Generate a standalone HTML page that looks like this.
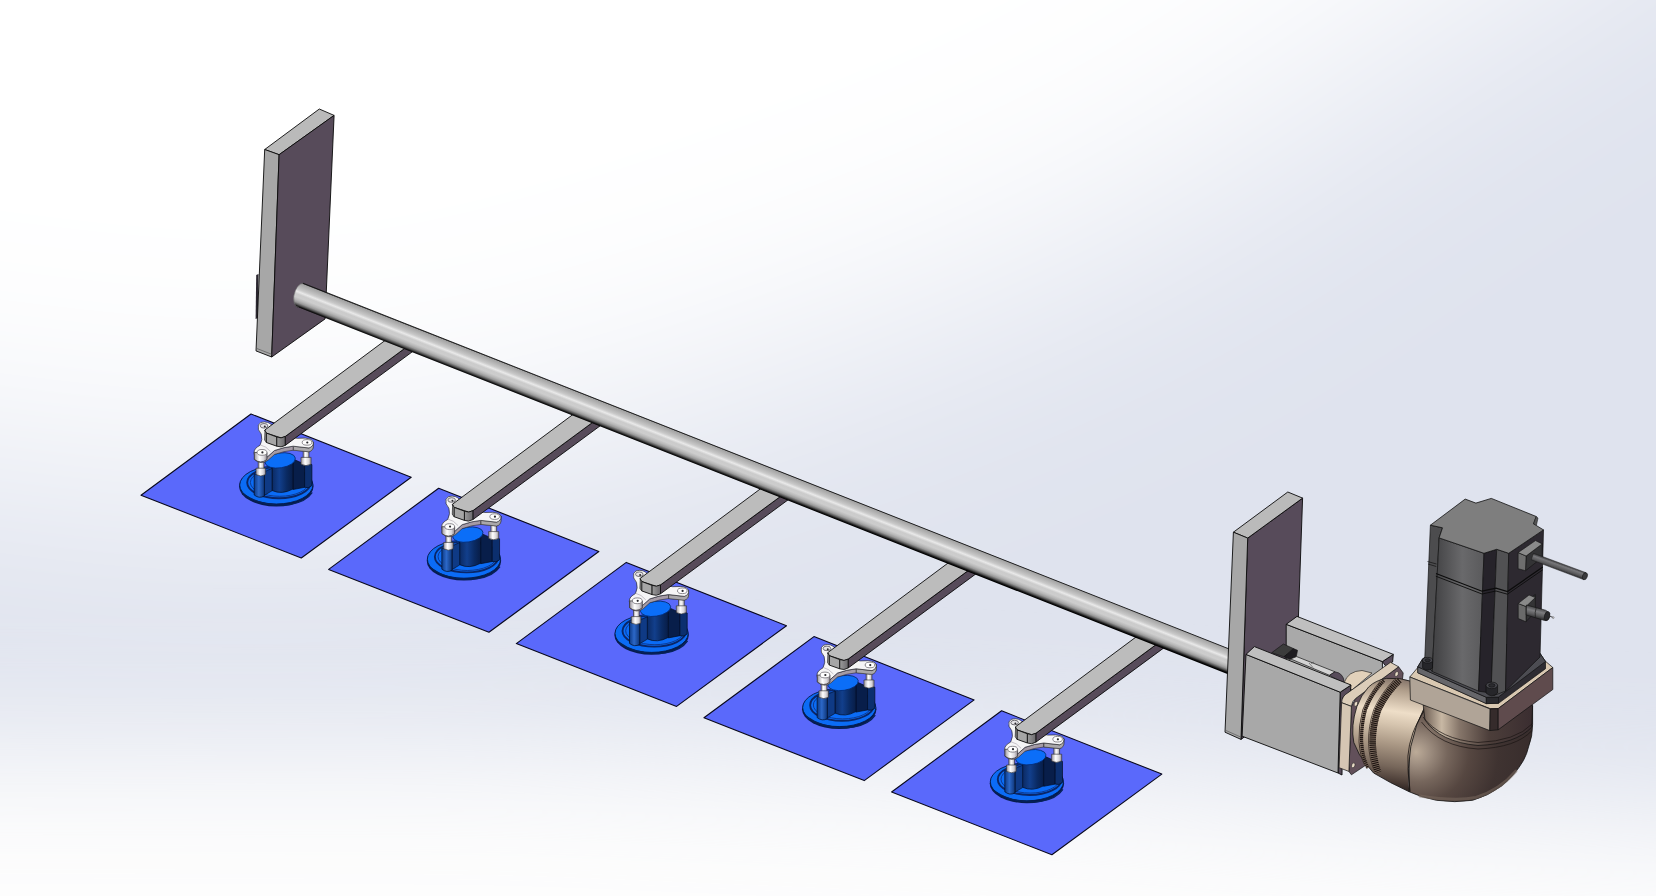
<!DOCTYPE html>
<html><head><meta charset="utf-8"><title>Assembly view</title>
<style>
html,body{margin:0;padding:0;background:#fff;overflow:hidden}
svg{display:block}
</style></head><body>
<svg width="1656" height="896" viewBox="0 0 1656 896">
<defs>
<linearGradient id="tube" gradientUnits="userSpaceOnUse" x1="600" y1="400.3" x2="591.18" y2="422.7">
<stop offset="0" stop-color="#1a1a1a"/><stop offset="0.045" stop-color="#a2a2a2"/><stop offset="0.15" stop-color="#b2b2b2"/><stop offset="0.3" stop-color="#c9c9c9"/><stop offset="0.4" stop-color="#e9e9e9"/><stop offset="0.5" stop-color="#cbcbcb"/><stop offset="0.62" stop-color="#cdcdcd"/><stop offset="0.73" stop-color="#b6b6b6"/><stop offset="0.82" stop-color="#989898"/><stop offset="0.9" stop-color="#585858"/><stop offset="0.955" stop-color="#1c1c1c"/><stop offset="1" stop-color="#000"/>
</linearGradient>
<linearGradient id="cyl" x1="0" y1="0" x2="1" y2="0">
<stop offset="0" stop-color="#0b2a63"/><stop offset="0.35" stop-color="#123f8c"/><stop offset="0.7" stop-color="#0a2a62"/><stop offset="1" stop-color="#081d47"/>
</linearGradient>
<linearGradient id="post" x1="0" y1="0" x2="1" y2="0">
<stop offset="0" stop-color="#0d3a86"/><stop offset="0.45" stop-color="#2c68c8"/><stop offset="1" stop-color="#0e3577"/>
</linearGradient>
<linearGradient id="screw" x1="0" y1="0" x2="1" y2="0">
<stop offset="0" stop-color="#9a959c"/><stop offset="0.4" stop-color="#ffffff"/><stop offset="0.75" stop-color="#d8d6da"/><stop offset="1" stop-color="#8e8890"/>
</linearGradient>
<linearGradient id="armc" x1="0" y1="0" x2="1" y2="0">
<stop offset="0" stop-color="#9c9c9c"/><stop offset="1" stop-color="#6c6a6e"/>
</linearGradient>

</defs>
<rect width="1656" height="896" fill="#dfe3ee"/>
<filter id="bgblur" filterUnits="userSpaceOnUse" x="-900" y="-900" width="3500" height="2700"><feGaussianBlur stdDeviation="125"/></filter>
<polygon points="-500,400 0,462 200,492 450,472 700,400 1000,290 1200,190 1390,55 1750,-170 1750,-600 -500,-600" fill="#ffffff" filter="url(#bgblur)"/>
<filter id="bgblur2" filterUnits="userSpaceOnUse" x="-900" y="-200" width="3500" height="2000"><feGaussianBlur stdDeviation="66"/></filter>
<polygon points="-600,745 500,747 1000,768 1400,800 2200,835 2200,1600 -600,1600" fill="#fdfdfd" filter="url(#bgblur2)"/>
<g id="leftplate">
<polygon points="256.2,275.0 258.5,274.0 258.0,318.0 255.6,319.0" fill="#2b2730" />
<polygon points="264.7,149.5 319.3,109.0 334.1,115.4 279.1,154.7" fill="#bababa" stroke="#0a0a0a" stroke-width="0.9" stroke-linejoin="round" />
<polygon points="264.7,149.5 279.1,154.7 271.7,357.0 256.0,350.9" fill="#a7a7a7" stroke="#0a0a0a" stroke-width="0.9" stroke-linejoin="round" />
<polygon points="279.1,154.7 334.1,115.4 325.1,318.9 271.7,357.0" fill="#574b5a" stroke="#0a0a0a" stroke-width="0.9" stroke-linejoin="round" />
<path d="M256.4 348.3 L271.7 354.3" stroke="#5a5a5a" stroke-width="0.7" fill="none"/>
</g>
<defs><g id="unit">
<polygon points="251.0,414.0 411.2,477.3 301.3,558.0 141.0,495.2" fill="#5a69fb" stroke="#08081c" stroke-width="1.1" stroke-linejoin="round" />
<ellipse cx="276.3" cy="486.6" rx="37.2" ry="19.8" fill="#071c4e"/>
<ellipse cx="276.3" cy="485" rx="36.6" ry="19" fill="#0b6cf6" stroke="#051a4a" stroke-width="0.9"/>
<path d="M243.5 494 Q262 507.5 290 504.5 Q306 502 312.3 492.5" stroke="#06225a" stroke-width="1.3" fill="none"/>
<ellipse cx="279" cy="482.6" rx="31.8" ry="15.6" fill="none" stroke="#0a2668" stroke-width="1.9"/>
<ellipse cx="279.6" cy="482.4" rx="29.2" ry="13.9" fill="none" stroke="#0c3488" stroke-width="0.9"/>
<path d="M293 459 L304.6 464.2 L304.6 487.3 L293 489.5 Z" fill="#081e4a" stroke="#030d24" stroke-width="0.7"/>
<path d="M304.6 464.2 Q308 462.6 311.9 464.6 L311.9 485.6 Q308.5 488.8 304.6 487.3 Z" fill="#0c2f6e" stroke="#030d24" stroke-width="0.7"/>
<path d="M272 463 L272 490.5 Q282 495 293 489 L293 459 Z" fill="url(#cyl)" stroke="#030d24" stroke-width="0.7"/>
<ellipse cx="280.2" cy="460.4" rx="15.3" ry="7.4" transform="rotate(-9 280.2 460.4)" fill="#0b6ef8" stroke="#052a70" stroke-width="0.8"/>
<path d="M264.4 471.9 L272 468.4 L272 490.8 L264.4 495.3 Z" fill="#0f3a85" stroke="#030d24" stroke-width="0.6"/>
<path d="M254.2 473.8 L254.2 495 Q259.3 499 264.4 496 L264.4 473.8 Q259.3 476.5 254.2 473.8 Z" fill="url(#post)" stroke="#030d24" stroke-width="0.7"/>
<path d="M258.2 459 L258.2 469 L264 469 L264 459 Z" fill="url(#screw)" stroke="#2a2a2e" stroke-width="0.6"/>
<path d="M256 468.2 L265.6 468.2 L265.6 474.6 Q260.8 477.4 256 474.6 Z" fill="url(#screw)" stroke="#2a2a2e" stroke-width="0.6"/>
<path d="M303.2 447 L303.2 459 L309 459 L309 447 Z" fill="url(#screw)" stroke="#2a2a2e" stroke-width="0.6"/>
<path d="M301 457.4 L311.1 457.4 L311.1 464.2 Q306 467 301 464.2 Z" fill="url(#screw)" stroke="#2a2a2e" stroke-width="0.6"/>
<path d="M254.6 455.5 Q261 461.3 267.8 456.5 L274.5 450.5 Q284 447 293.2 446.2 L309 448 Q313.6 446 313.3 442 L313.3 446 Q313.4 450.4 309 451.8 L293.4 450.2 L293.4 446.3 L293.4 450.2 Q284 451 274.6 454.4 L268 460.3 Q261 465.3 254.4 459.5 Z" fill="#a59ba6" stroke="#2a2a2e" stroke-width="0.6"/>
<path d="M293.4 446.2 L309 448 Q313.6 446 313.3 442 L313.3 446 Q313.4 450.4 309 451.8 L293.4 450.2 Z" fill="#aaa8ab" stroke="#2a2a2e" stroke-width="0.5"/>
<path d="M258.4 425.1 Q260 421.5 264.5 421.9 Q268 422 270 423.6 L286 436 L297.2 438.3 L305.2 438.1 Q312.5 438.6 313.3 442.5 Q313.6 446.4 309 448 L293.2 446.2 Q284 447 274.5 450.5 L267.8 456.5 Q261 461.5 254.6 455.6 Q252.6 450 257.6 446.8 L260.1 445.2 Q263 439.5 261.2 434 Q257 429.5 258.4 425.1 Z" fill="#f5f5f6" stroke="#2a2a2e" stroke-width="0.7"/>
<path d="M260.5 445 Q266 446 270.5 451.5" stroke="#b9b4bc" stroke-width="0.8" fill="none"/>
<path d="M254.3 452.5 L254.3 459.3 Q260.5 464.4 267 459.5 L267 452.5 Z" fill="url(#screw)" stroke="#2a2a2e" stroke-width="0.7"/>
<ellipse cx="262" cy="452.4" rx="4.9" ry="2.9" fill="#fff" stroke="#5d5a62" stroke-width="0.7"/><circle cx="262.4" cy="452.4" r="1.1" fill="#2a2a2e"/>
<ellipse cx="307" cy="442.4" rx="4.8" ry="2.8" fill="#fff" stroke="#5d5a62" stroke-width="0.7"/><circle cx="307.3" cy="442.5" r="1.1" fill="#2a2a2e"/>
<ellipse cx="264" cy="425.8" rx="3.8" ry="2.3" fill="#e6e4e8" stroke="#3f3c44" stroke-width="0.7"/><circle cx="264.8" cy="426.6" r="1" fill="#2a2a2e"/>
<polygon points="285.2,445.4 285.2,436.5 412.0,343.0 420.0,346.1" fill="#574b5a" stroke="#0a0a0a" stroke-width="0.9" stroke-linejoin="round" />
<polygon points="264.6,430.2 392.0,335.3 412.0,343.0 285.2,436.5 281.1,437.9 266.4,433.1" fill="#bcbcbc" stroke="#0a0a0a" stroke-width="0.9" stroke-linejoin="round" />
<polygon points="266.4,433.1 276.8,437.0 276.8,446.2 266.4,442.5" fill="#a6a6a6" stroke="#0a0a0a" stroke-width="0.9" stroke-linejoin="round" />
<path d="M276.8 437 Q281 439 285.2 436.5 L285.2 445.4 Q281 448 276.8 446.2 Z" fill="url(#armc)" stroke="#0a0a0a" stroke-width="0.8"/>
<path d="M265 430.3 L266.4 433.1 L266.4 442.5 L264.6 440 Z" fill="#8d8d8d" stroke="#0a0a0a" stroke-width="0.6"/>
</g></defs>
<use href="#unit" transform="translate(0.00 0.00)"/>
<use href="#unit" transform="translate(187.65 74.20)"/>
<use href="#unit" transform="translate(375.30 148.40)"/>
<use href="#unit" transform="translate(562.95 222.60)"/>
<use href="#unit" transform="translate(750.60 296.80)"/>
<path d="M303 283.2 L1233 650.5 L1233 676.3 L298.8 307.4 Q295.6 307.5 294.2 302.9 Q292.6 296.9 295.4 290.4 Q298.5 283.5 303 283.2 Z" fill="url(#tube)"/>
<path d="M303 283.2 L1233 650.5" stroke="#141414" stroke-width="0.9" fill="none"/>
<path d="M303 283.5 Q298.5 283.7 295.4 290.4 Q292.6 296.9 294.2 302.9 Q295.6 307.5 298.8 307.3" fill="none" stroke="#6e6e6e" stroke-width="0.6"/>
<defs>
<linearGradient id="gcyl" gradientUnits="userSpaceOnUse" x1="1388" y1="677" x2="1372" y2="786">
<stop offset="0" stop-color="#85746a"/><stop offset="0.1" stop-color="#b09e8b"/><stop offset="0.3" stop-color="#eedec8"/><stop offset="0.42" stop-color="#d5c4ae"/><stop offset="0.6" stop-color="#a99784"/><stop offset="0.8" stop-color="#76665a"/><stop offset="0.93" stop-color="#4a3c36"/><stop offset="1" stop-color="#2e2422"/>
</linearGradient>
<radialGradient id="gelb" gradientUnits="userSpaceOnUse" cx="1424" cy="754" r="118" fx="1416" fy="752">
<stop offset="0" stop-color="#bcab98"/><stop offset="0.1" stop-color="#a09082"/><stop offset="0.25" stop-color="#76665c"/><stop offset="0.42" stop-color="#564741"/><stop offset="0.65" stop-color="#3f3331"/><stop offset="1" stop-color="#362b2b"/>
</radialGradient>
<linearGradient id="gneck" gradientUnits="userSpaceOnUse" x1="1423" y1="0" x2="1533" y2="0">
<stop offset="0" stop-color="#6a5b51"/><stop offset="0.17" stop-color="#c8b8a4"/><stop offset="0.33" stop-color="#86766a"/><stop offset="0.6" stop-color="#4c3e3a"/><stop offset="1" stop-color="#3a2d30"/>
</linearGradient>
<linearGradient id="mleft" gradientUnits="userSpaceOnUse" x1="1436" y1="0" x2="1484" y2="0">
<stop offset="0" stop-color="#454547"/><stop offset="0.55" stop-color="#69696b"/><stop offset="1" stop-color="#5a5a5c"/>
</linearGradient>
<linearGradient id="rod" gradientUnits="userSpaceOnUse" x1="1560" y1="563" x2="1557.5" y2="570">
<stop offset="0" stop-color="#3a3a3c"/><stop offset="0.3" stop-color="#77777a"/><stop offset="0.7" stop-color="#58585a"/><stop offset="1" stop-color="#2c2c2e"/>
</linearGradient>
<linearGradient id="rod2" gradientUnits="userSpaceOnUse" x1="1538" y1="608" x2="1535.6" y2="618">
<stop offset="0" stop-color="#48484a"/><stop offset="0.35" stop-color="#7c7c7f"/><stop offset="0.7" stop-color="#5a5a5c"/><stop offset="1" stop-color="#2c2c2e"/>
</linearGradient>
</defs>
<g id="rightasm">
<polygon points="1247.7,538.1 1302.6,498.1 1295.5,700.0 1241.0,739.4" fill="#574b5a" stroke="#0a0a0a" stroke-width="0.9" stroke-linejoin="round" />
<polygon points="1233.4,532.2 1287.8,492.0 1302.6,498.1 1247.7,538.1" fill="#bababa" stroke="#0a0a0a" stroke-width="0.9" stroke-linejoin="round" />
<polygon points="1233.4,532.2 1247.7,538.1 1241.0,739.4 1225.0,732.2" fill="#a7a7a7" stroke="#0a0a0a" stroke-width="0.9" stroke-linejoin="round" />
<path d="M1225.3 730.2 L1241 737.2" stroke="#5a5a5a" stroke-width="0.7" fill="none"/>
<polygon points="1286.2,624.3 1382.4,661.6 1382.4,705.0 1286.2,668.0" fill="#a9a9a9" stroke="#0a0a0a" stroke-width="0.9" stroke-linejoin="round" />
<polygon points="1382.4,661.6 1393.3,654.4 1392.6,662.0 1385.7,666.0" fill="#574b5a" stroke="#0a0a0a" stroke-width="0.9" stroke-linejoin="round" />
<polygon points="1286.2,624.3 1297.0,616.4 1393.3,654.4 1382.4,661.6" fill="#bfbfbf" stroke="#0a0a0a" stroke-width="0.9" stroke-linejoin="round" />
<polygon points="1271.7,652.7 1283.4,644.0 1293.5,648.6 1284.0,656.8" fill="#3c3c3c" stroke="#111" stroke-width="0.6" stroke-linejoin="round" />
<polygon points="1284.0,656.8 1293.5,648.6 1297.5,650.3 1296.3,656.6 1289.7,659.6" fill="#1e1c20" stroke="#111" stroke-width="0.6" stroke-linejoin="round" />
<polygon points="1290.5,658.9 1296.7,656.6 1335.0,671.8 1329.5,675.3" fill="#d4d4d4" stroke="#111" stroke-width="0.7" stroke-linejoin="round" />
<path d="M1309 663 L1313 667.5 M1311 663.5 l3 -1.5" stroke="#444" stroke-width="0.6" fill="none"/>
<path d="M1329.5 675.3 L1335 671.8 Q1343 673 1344.2 681.5 L1342 682.5 Z" fill="#574b5a" stroke="#111" stroke-width="0.6"/>
<path d="M1344 683 Q1348 671 1362 670.5 L1372 673 L1352 690 Z" fill="#e2d1ba" stroke="#111" stroke-width="0.6"/>
<polygon points="1340.2,692.2 1351.0,685.0 1350.4,691.5 1343.0,697.5 1342.0,775.0 1338.0,773.0" fill="#574b5a" stroke="#0a0a0a" stroke-width="0.9" stroke-linejoin="round" />
<polygon points="1246.0,654.4 1340.2,692.2 1338.0,773.0 1242.1,736.2" fill="#a8a8a8" stroke="#0a0a0a" stroke-width="0.9" stroke-linejoin="round" />
<polygon points="1246.0,654.4 1254.4,646.6 1351.0,685.0 1340.2,692.2" fill="#bfbfbf" stroke="#0a0a0a" stroke-width="0.9" stroke-linejoin="round" />
<polygon points="1351.4,706.4 1355.7,698.4 1398.6,666.8 1403.2,673.0 1401.0,692.0 1366.0,765.0 1351.4,774.8 1348.9,771.4" fill="#62505a" stroke="#111" stroke-width="0.7" stroke-linejoin="round" />
<path d="M1341.6 702.7 Q1342 696 1347.7 692.9 L1390.5 662.3 L1398.6 666.8 L1355.7 698.4 Q1352 701 1351.4 706.4 Z" fill="#dccdb9" stroke="#111" stroke-width="0.7"/>
<polygon points="1341.6,702.7 1351.4,706.4 1348.9,771.4 1339.1,767.7" fill="#d5c6b3" stroke="#111" stroke-width="0.7" stroke-linejoin="round" />
<ellipse cx="1355.9" cy="703.9" rx="1.6" ry="2.5" transform="rotate(20 1355.9 703.9)" fill="#eadcc8" stroke="#222" stroke-width="0.5"/>
<ellipse cx="1396.6" cy="674" rx="1.6" ry="2.5" transform="rotate(20 1396.6 674)" fill="#eadcc8" stroke="#222" stroke-width="0.5"/>
<ellipse cx="1353.3" cy="765.3" rx="1.6" ry="2.5" transform="rotate(20 1353.3 765.3)" fill="#eadcc8" stroke="#222" stroke-width="0.5"/>
<path d="M1409 742 L1425 705 L1532.6 706 L1532.6 724.3 Q1532.5 737 1528.8 746 Q1527 754 1523.4 760.5 Q1515 775 1501.7 785.9 Q1488 796 1472.7 800.3 Q1455 803 1436.4 800.3 Q1420 797 1409.3 791.8 Z" fill="url(#gelb)" stroke="#111" stroke-width="0.8"/>
<path d="M1420 796 Q1455 801.5 1476 797.5 Q1500 790 1516 771" stroke="#7a6a5e" stroke-opacity="0.55" stroke-width="3" fill="none" stroke-linecap="round"/>
<path d="M1368.6 687 Q1376 680 1386.6 678.4 Q1400 677.3 1412 681.5 L1426 704 Q1404 745 1409.3 791.8 Q1390 783 1373.6 773 L1366.3 764.4 Q1358.4 755 1353.8 742.5 Q1350.6 726 1356.9 706.6 Q1361 695 1368.6 687 Z" fill="url(#gcyl)" stroke="#111" stroke-width="0.8"/>
<path d="M1425.4 708.8 Q1417 722 1412.9 732.9 Q1408.6 745 1407.9 756.1 Q1407.4 772 1410.2 791.8" stroke="#1a1412" stroke-width="0.8" fill="none"/>
<path d="M1380.5 681 Q1369 694 1362.8 709.8 Q1358.3 726 1359 741.8 Q1360 756 1364.8 765.5" stroke="#3a2e28" stroke-width="0.9" fill="none"/>
<path d="M1383.8 680.6 Q1372 693 1365.5 709.3 Q1361 726 1361.6 741.8 Q1362.5 757 1367.9 768" stroke="#77665a" stroke-width="3.2" fill="none"/>
<path d="M1383.8 680.6 Q1372 693 1365.5 709.3 Q1361 726 1361.6 741.8 Q1362.5 757 1367.9 768" stroke="#1c1411" stroke-width="3.2" fill="none" stroke-dasharray="1.1 0.9"/>
<path d="M1394.5 679.4 Q1381.5 692.5 1373.8 709.5 Q1368.1 726.5 1368.5 743.5 Q1369.4 759.5 1374.2 770.5" stroke="#3a2e28" stroke-width="0.8" fill="none"/>
<path d="M1399.4 680.2 Q1386 693 1378 710 Q1372.3 727 1372.6 744 Q1373.5 760 1378.3 772.5" stroke="#7b6a5d" stroke-width="6.6" fill="none"/>
<path d="M1399.4 680.2 Q1386 693 1378 710 Q1372.3 727 1372.6 744 Q1373.5 760 1378.3 772.5" stroke="#1c1411" stroke-width="6.6" fill="none" stroke-dasharray="1.1 0.9"/>
<path d="M1423.2 705 L1425 720 Q1440 742 1478 745.5 Q1516 744 1531.8 727 L1532.6 705 Z" fill="url(#gneck)" stroke="#111" stroke-width="0.7"/>
<path d="M1423 717 Q1440 739.5 1478 742.5 Q1516 741 1532 724" stroke="#1a1412" stroke-width="0.7" fill="none"/>
<path d="M1421.5 722 Q1440 746.5 1478 749 Q1516 747.5 1531.5 731" stroke="#1a1412" stroke-width="0.7" fill="none"/>
<polygon points="1409.8,677.0 1418.4,666.8 1470.0,640.0 1545.5,661.3 1552.8,667.5 1498.2,708.6 1490.2,708.6" fill="#d9c8b1" stroke="#111" stroke-width="0.7" stroke-linejoin="round" />
<polygon points="1409.8,677.0 1490.2,709.0 1489.8,730.6 1410.4,700.0" fill="#b0a497" stroke="#111" stroke-width="0.7" stroke-linejoin="round" />
<polygon points="1490.2,709.0 1498.2,708.6 1498.2,729.8 1489.8,730.6" fill="#352b2b" stroke="#111" stroke-width="0.7" stroke-linejoin="round" />
<polygon points="1498.2,708.6 1552.8,667.5 1552.8,689.5 1498.2,729.8" fill="#5f4b4d" stroke="#111" stroke-width="0.7" stroke-linejoin="round" />
<polygon points="1417.8,666.8 1422.7,658.8 1470.0,635.0 1540.0,653.3 1545.5,661.5 1545.5,668.7 1498.5,703.3 1486.3,703.6 1417.8,672.8" fill="#2e2c32" stroke="#111" stroke-width="0.7" stroke-linejoin="round" />
<polygon points="1417.8,666.8 1486.3,697.3 1486.3,703.6 1417.8,672.8" fill="#66666a" stroke="#111" stroke-width="0.6" stroke-linejoin="round" />
<polygon points="1486.3,697.3 1498.5,697.0 1498.5,703.3 1486.3,703.6" fill="#2a2a2e" stroke="#111" stroke-width="0.6" stroke-linejoin="round" />
<polygon points="1417.8,666.8 1422.7,658.8 1470.0,635.0 1540.0,653.3 1545.5,661.5 1498.5,697.0 1486.3,697.3" fill="#4c4c52" stroke="#111" stroke-width="0.7" stroke-linejoin="round" />
<polygon points="1430.4,525.2 1442.5,527.8 1439.1,537.9 1432.2,671.5 1424.6,662.5" fill="#4c4c4e" stroke="#111" stroke-width="0.7" stroke-linejoin="round" />
<polygon points="1439.1,537.9 1484.0,553.3 1478.6,691.2 1432.2,671.5" fill="url(#mleft)" stroke="#111" stroke-width="0.7" stroke-linejoin="round" />
<polygon points="1484.0,553.3 1496.7,549.3 1491.0,693.0 1478.6,691.2" fill="#26232a" stroke="#111" stroke-width="0.7" stroke-linejoin="round" />
<polygon points="1496.7,549.3 1508.7,553.3 1505.6,691.0 1494.0,695.5 1491.0,693.0" fill="#515153" stroke="#111" stroke-width="0.7" stroke-linejoin="round" />
<polygon points="1508.7,553.3 1543.5,529.9 1540.0,657.0 1505.6,691.0" fill="#2d2930" stroke="#111" stroke-width="0.7" stroke-linejoin="round" />
<polygon points="1430.4,525.2 1465.2,499.1 1475.9,503.1 1491.3,498.4 1536.2,516.5 1533.5,523.8 1543.5,529.9 1508.7,553.3 1496.7,549.3 1484.0,553.3 1439.1,537.9 1442.5,527.8" fill="#7e7e7e" stroke="#111" stroke-width="0.8" stroke-linejoin="round" />
<path d="M1536.2 516.5 L1538 518 L1536.5 525 L1533.5 523.8 Z" fill="#555" stroke="#111" stroke-width="0.5"/>
<path d="M1427.5 561.5 L1436.5 564 M1428 564 L1436.3 566.5" stroke="#111" stroke-width="0.7" fill="none"/>
<path d="M1436 573.5 L1482 591.2 L1496 588.2 L1507.5 591.5 L1542.8 567" stroke="#0c0c0c" stroke-width="1.2" fill="none"/>
<path d="M1435.8 576.2 L1482 594 L1496 591 L1507.4 594.2 L1542.7 569.8" stroke="#0c0c0c" stroke-width="0.9" fill="none"/>
<polygon points="1526.1,556.0 1542.2,543.9 1542.2,557.5 1525.5,570.7" fill="#333335" stroke="#111" stroke-width="0.6" stroke-linejoin="round" />
<polygon points="1518.1,552.6 1526.1,556.0 1525.5,570.7 1518.1,568.7" fill="#6e6e6e" stroke="#111" stroke-width="0.6" stroke-linejoin="round" />
<polygon points="1518.1,552.6 1535.5,540.6 1542.2,543.9 1526.1,556.0" fill="#8a8a8a" stroke="#111" stroke-width="0.6" stroke-linejoin="round" />
<path d="M1533.5 553.2 L1586 572.7 L1583.6 579.6 L1531.2 559.8 Z" fill="url(#rod)" stroke="#1a1a1a" stroke-width="0.5"/>
<ellipse cx="1584.9" cy="576.2" rx="2.4" ry="3.7" transform="rotate(20 1584.9 576.2)" fill="#3a3a3d" stroke="#111" stroke-width="0.5"/>
<polygon points="1526.0,601.5 1535.3,594.5 1535.3,612.0 1526.0,621.5" fill="#333335" stroke="#111" stroke-width="0.6" stroke-linejoin="round" />
<polygon points="1518.2,603.5 1526.0,606.5 1526.0,621.8 1518.2,618.5" fill="#6a6a6a" stroke="#111" stroke-width="0.6" stroke-linejoin="round" />
<polygon points="1518.2,603.5 1529.0,595.0 1535.3,597.6 1526.0,606.5" fill="#8a8a8a" stroke="#111" stroke-width="0.6" stroke-linejoin="round" />
<path d="M1526.4 605 L1545.5 610.2 Q1550.4 612.6 1549.6 617 Q1548.4 621.4 1544.6 620.5 L1526.2 615 Z" fill="url(#rod2)" stroke="#111" stroke-width="0.6"/>
<path d="M1536.2 607.7 Q1534.6 612.5 1535.4 617.7" stroke="#1a1a1a" stroke-width="0.7" fill="none"/>
<ellipse cx="1547" cy="616" rx="2.6" ry="4.6" transform="rotate(17 1547 616)" fill="#2a2a2d" stroke="#111" stroke-width="0.5"/>
<path d="M1548.5 615.6 L1553.4 617.6" stroke="#333" stroke-width="0.9"/>
<circle cx="1553.2" cy="617.6" r="0.9" fill="#ddd" stroke="#333" stroke-width="0.4"/>
<path d="M1422.6 660.2 L1422.6 667.8000000000001 Q1427.6 672.5600000000001 1432.6 667.8000000000001 L1432.6 660.2 Z" fill="#26262a" stroke="#0a0a0a" stroke-width="0.6"/>
<ellipse cx="1427.6" cy="660.2" rx="5.0" ry="2.80" fill="#46464c" stroke="#0a0a0a" stroke-width="0.6"/>
<ellipse cx="1427.6" cy="660.2" rx="2.75" ry="1.54" fill="#2c2c30" stroke="#0a0a0a" stroke-width="0.5"/>
<path d="M1486.0 685.4 L1486.0 693.0 Q1491.8 698.5216 1497.6 693.0 L1497.6 685.4 Z" fill="#26262a" stroke="#0a0a0a" stroke-width="0.6"/>
<ellipse cx="1491.8" cy="685.4" rx="5.8" ry="3.25" fill="#46464c" stroke="#0a0a0a" stroke-width="0.6"/>
<ellipse cx="1491.8" cy="685.4" rx="3.19" ry="1.79" fill="#2c2c30" stroke="#0a0a0a" stroke-width="0.5"/>
</g>
</svg></body></html>
